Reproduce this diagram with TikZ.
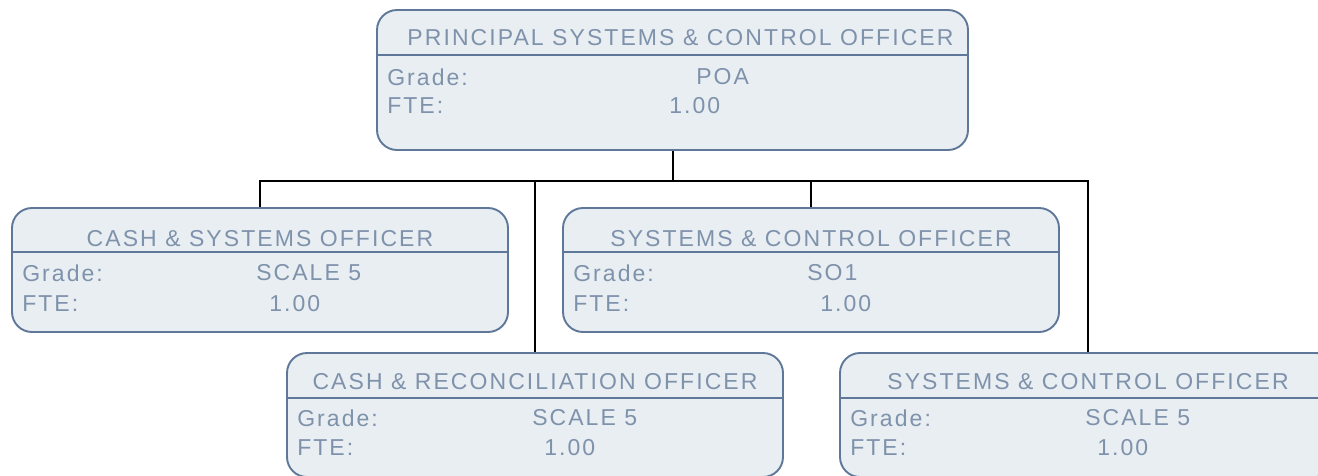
\documentclass[tikz,border=0pt]{standalone}
\usepackage{fontspec}
\setmainfont{Liberation Sans}[LetterSpace=9]
\usetikzlibrary{positioning, calc}
\definecolor{boxline}{HTML}{5F7799}
\definecolor{boxfill}{HTML}{E8EEF1}
\definecolor{boxtext}{HTML}{7F92AC}

\begin{document}
\begin{tikzpicture}[
    x=1pt, y=-1pt,
    font=\fontsize{23}{27}\selectfont,
    post/.style={draw=boxline, line width=1.9pt, rounded corners=20pt, fill=boxfill,
                 minimum width=496pt, minimum height=124pt, inner sep=0pt},
    divider/.style={draw=boxline, line width=1.9pt},
    title/.style={text=boxtext, inner sep=0pt},
    field/.style={text=boxtext, inner sep=0pt, anchor=west},
    link/.style={draw=black, line width=2pt},
]
    \clip (0,0) rectangle (1318,475);

    %==================== PRINCIPAL OFFICER ====================
    \node[post, minimum width=591pt, minimum height=140pt] (poa) at (672.5,80) {};
    \draw[divider] ([yshift=-46pt]poa.north west) -- ([yshift=-46pt]poa.north east);
    \node[title] (poa-t) at ($(poa.north)+(8,29)$) {PRINCIPAL SYSTEMS \& CONTROL OFFICER};
    \node[field] (poa-g) at ($(poa.north west)+(11,68)$) {Grade:};
    \node[field] (poa-gv) at ($(poa.north west)+(320,68)$) {POA};
    \node[field] (poa-f) at ($(poa.north west)+(11,97)$) {FTE:};
    \node[field] (poa-fv) at ($(poa.north west)+(293,97)$) {1.00};

    %==================== CASH & SYSTEMS ====================
    \node[post] (cso) at (260,270) {};
    \draw[divider] ([yshift=-45pt]cso.north west) -- ([yshift=-45pt]cso.north east);
    \node[title] (cso-t) at ($(cso.north)+(0,32)$) {CASH \& SYSTEMS OFFICER};
    \node[field] (cso-g) at ($(cso.north west)+(11,66)$) {Grade:};
    \node[field] (cso-gv) at ($(cso.north west)+(245,66)$) {SCALE 5};
    \node[field] (cso-f) at ($(cso.north west)+(11,97)$) {FTE:};
    \node[field] (cso-fv) at ($(cso.north west)+(258,97)$) {1.00};

    %==================== SYSTEMS & CONTROL (SO1) ====================
    \node[post] (sco1) at (811,270) {};
    \draw[divider] ([yshift=-45pt]sco1.north west) -- ([yshift=-45pt]sco1.north east);
    \node[title] (sco1-t) at ($(sco1.north)+(0,32)$) {SYSTEMS \& CONTROL OFFICER};
    \node[field] (sco1-g) at ($(sco1.north west)+(11,66)$) {Grade:};
    \node[field] (sco1-gv) at ($(sco1.north west)+(245,66)$) {SO1};
    \node[field] (sco1-f) at ($(sco1.north west)+(11,97)$) {FTE:};
    \node[field] (sco1-fv) at ($(sco1.north west)+(258,97)$) {1.00};

    %==================== CASH & RECONCILIATION ====================
    \node[post] (cro) at (535,415) {};
    \draw[divider] ([yshift=-46pt]cro.north west) -- ([yshift=-46pt]cro.north east);
    \node[title] (cro-t) at ($(cro.north)+(0,30)$) {CASH \& RECONCILIATION OFFICER};
    \node[field] (cro-g) at ($(cro.north west)+(11,66)$) {Grade:};
    \node[field] (cro-gv) at ($(cro.north west)+(246,66)$) {SCALE 5};
    \node[field] (cro-f) at ($(cro.north west)+(11,96)$) {FTE:};
    \node[field] (cro-fv) at ($(cro.north west)+(258,96)$) {1.00};

    %==================== SYSTEMS & CONTROL (SCALE 5) ====================
    \node[post] (sco2) at (1088,415) {};
    \draw[divider] ([yshift=-46pt]sco2.north west) -- ([yshift=-46pt]sco2.north east);
    \node[title] (sco2-t) at ($(sco2.north)+(0,30)$) {SYSTEMS \& CONTROL OFFICER};
    \node[field] (sco2-g) at ($(sco2.north west)+(11,66)$) {Grade:};
    \node[field] (sco2-gv) at ($(sco2.north west)+(246,66)$) {SCALE 5};
    \node[field] (sco2-f) at ($(sco2.north west)+(11,96)$) {FTE:};
    \node[field] (sco2-fv) at ($(sco2.north west)+(258,96)$) {1.00};

    %==================== reporting lines ====================
    \coordinate (bus) at ($(poa.south)+(0,30)$);
    \draw[link] (poa.south) -- (bus);
    \draw[link] (cso.north) |- (bus) -| (sco2.north);
    \draw[link] (cro.north) -- (cro.north |- bus);
    \draw[link] (sco1.north) -- (sco1.north |- bus);

\end{tikzpicture}
\end{document}
